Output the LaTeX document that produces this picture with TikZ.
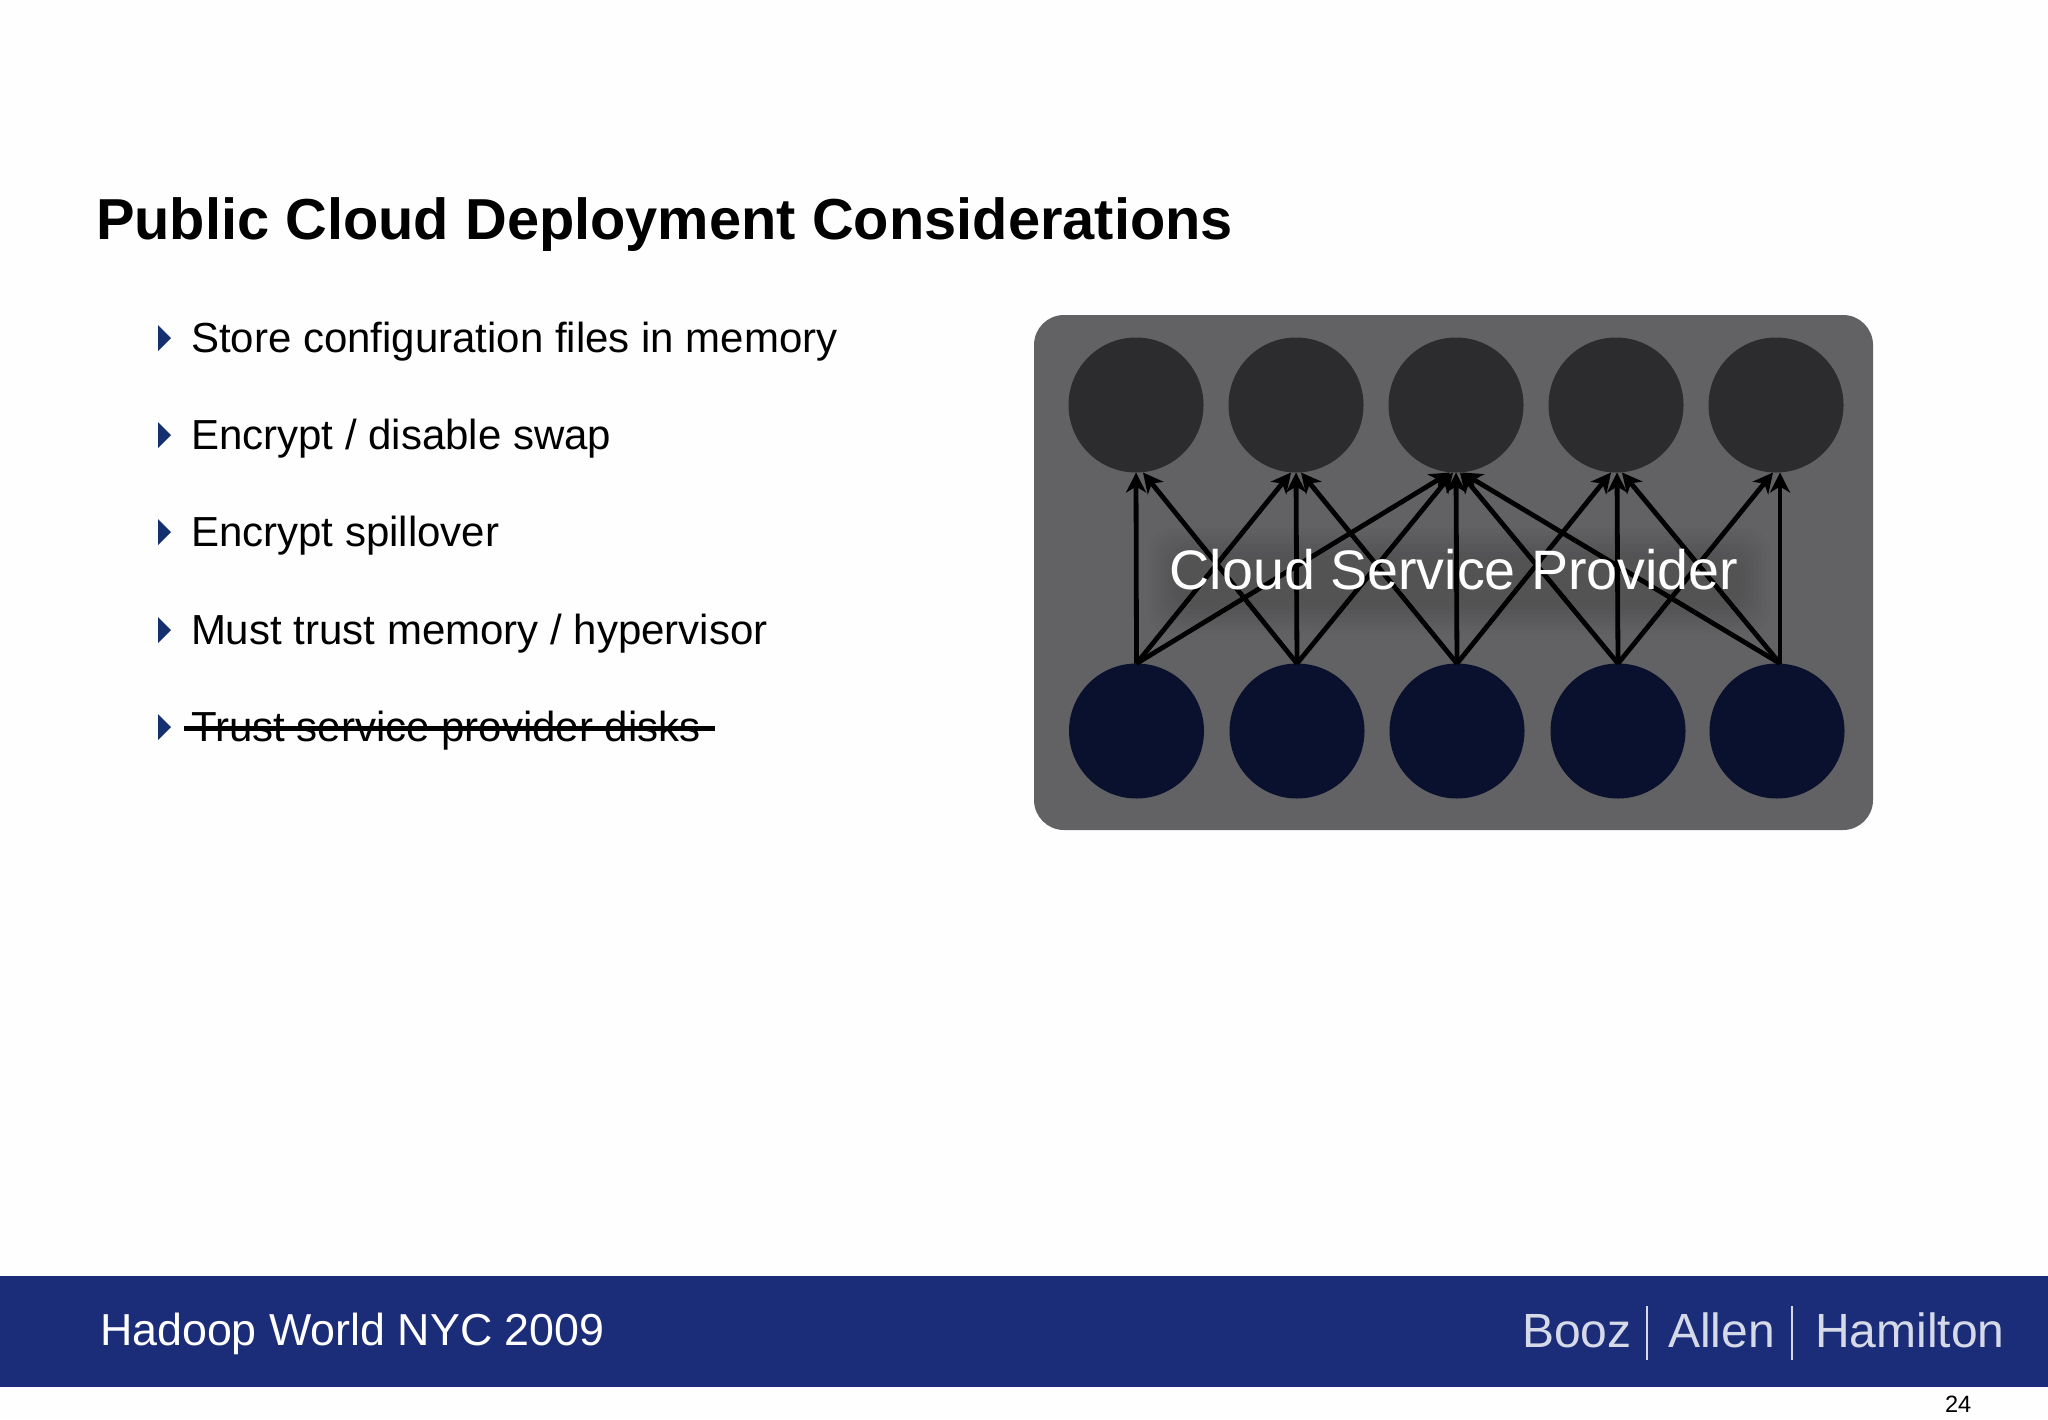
\documentclass[tikz,border=0pt]{standalone}
\usepackage{fontspec}
\setmainfont{Liberation Sans}
\usetikzlibrary{arrows.meta}
\definecolor{barblue}{HTML}{1B2D78}
\definecolor{bulletblue}{HTML}{14306F}
\definecolor{panel}{HTML}{626264}
\definecolor{topdisc}{HTML}{2C2C2E}
\definecolor{botdisc}{HTML}{09112E}
\definecolor{logotext}{HTML}{D6DAE8}
\definecolor{paper}{HTML}{FEFEFE}
\tikzset{
  txt/.style={anchor=base west,inner sep=0pt,outer sep=0pt,text=black},
  item/.style={txt,font=\fontsize{21pt}{25pt}\selectfont},
  logo/.style={txt,text=logotext,font=\fontsize{24pt}{28pt}\selectfont},
  disc/.style={circle,inner sep=0pt,outer sep=0pt,minimum size=67.5pt},
  topnode/.style={disc,fill=topdisc},
  botnode/.style={disc,fill=botdisc},
  link/.style={draw=black,line width=2.4pt,-{Stealth[length=10pt,width=10pt,inset=3pt]}},
  bullet/.style={fill=bulletblue},
}
\begin{document}
\begin{tikzpicture}[x=0.5pt,y=-0.5pt]
\useasboundingbox (0,0) rectangle (2048,1419);
\fill[paper] (0,0) rectangle (2048,1419);
% title
\node[txt,font=\bfseries\fontsize{28.9pt}{32pt}\selectfont] (title) at (96,239) {Public Cloud Deployment Considerations};
% bullets
\foreach \y in {338,435,532,630,727}
  \fill[bullet] (158,\y-13) -- (171,\y) -- (158,\y+13) -- cycle;
\node[item] (i1) at (191,352) {Store configuration files in memory};
\node[item] (i2) at (191,449) {Encrypt / disable swap};
\node[item] (i3) at (191,546) {Encrypt spillover};
\node[item] (i4) at (191,644) {Must trust memory / hypervisor};
\node[item] (i5) at (191,741) {Trust service provider disks};
\coordinate (s1) at (184,728.5);
\coordinate (s2) at (715,728.5);
\draw[line width=2.8pt,black] (s1) -- (s2);
% panel
\fill[panel,rounded corners=15pt] (1034,315) rectangle (1873,830);
\foreach \n/\x in {1/1136,2/1296,3/1456,4/1616,5/1776}
  \node[topnode] (t\n) at (\x,405) {};
\node[botnode] (b1) at (1136.5,731) {};
\node[botnode] (b2) at (1297,731) {};
\node[botnode] (b3) at (1457,731) {};
\node[botnode] (b4) at (1618,731) {};
\node[botnode] (b5) at (1777,731) {};
% bottom node / top node / sideways offset of the tip, pt
\foreach \a/\b/\d in {1/1/0,1/2/-2.5,1/3/-3,2/1/3.5,2/2/0,2/3/-1.5,3/2/2.5,3/3/0,3/4/-2.5,4/3/2,4/4/0.5,4/5/-1.5,5/3/3,5/4/3,5/5/2}{
  \pgfmathsetmacro{\srcd}{\a==5 ? 1.5 : 0}
  \draw[link] ([xshift=\srcd pt]b\a.north) -- ([xshift=\d pt]t\b.south);
}
% soft shadow behind the label
\foreach \g in {0,4,...,28}
  \fill[black,opacity=0.011,rounded corners=12pt] (1176-\g,556-\g) rectangle (1742+\g,606+\g);
% label
\node[inner sep=0pt,text=white,font=\fontsize{27.8pt}{34pt}\selectfont] (cloud) at (1454,570) {Cloud Service Provider};
% footer
\fill[barblue] (0,1276) rectangle (2048,1387);
\node[txt,text=white,font=\fontsize{22.4pt}{26pt}\selectfont] (foot) at (100,1345) {Hadoop World NYC 2009};
\node[logo] (l1) at (1522,1347) {Booz};
\node[logo] (l2) at (1668,1347) {Allen};
\node[logo] (l3) at (1815,1347) {Hamilton};
\draw[logotext,line width=1.2pt] (1647,1306) -- (1647,1360);
\draw[logotext,line width=1.2pt] (1792,1306) -- (1792,1360);
\node[txt,font=\fontsize{11.8pt}{13pt}\selectfont] (page) at (1945,1412) {24};
\end{tikzpicture}
\end{document}
